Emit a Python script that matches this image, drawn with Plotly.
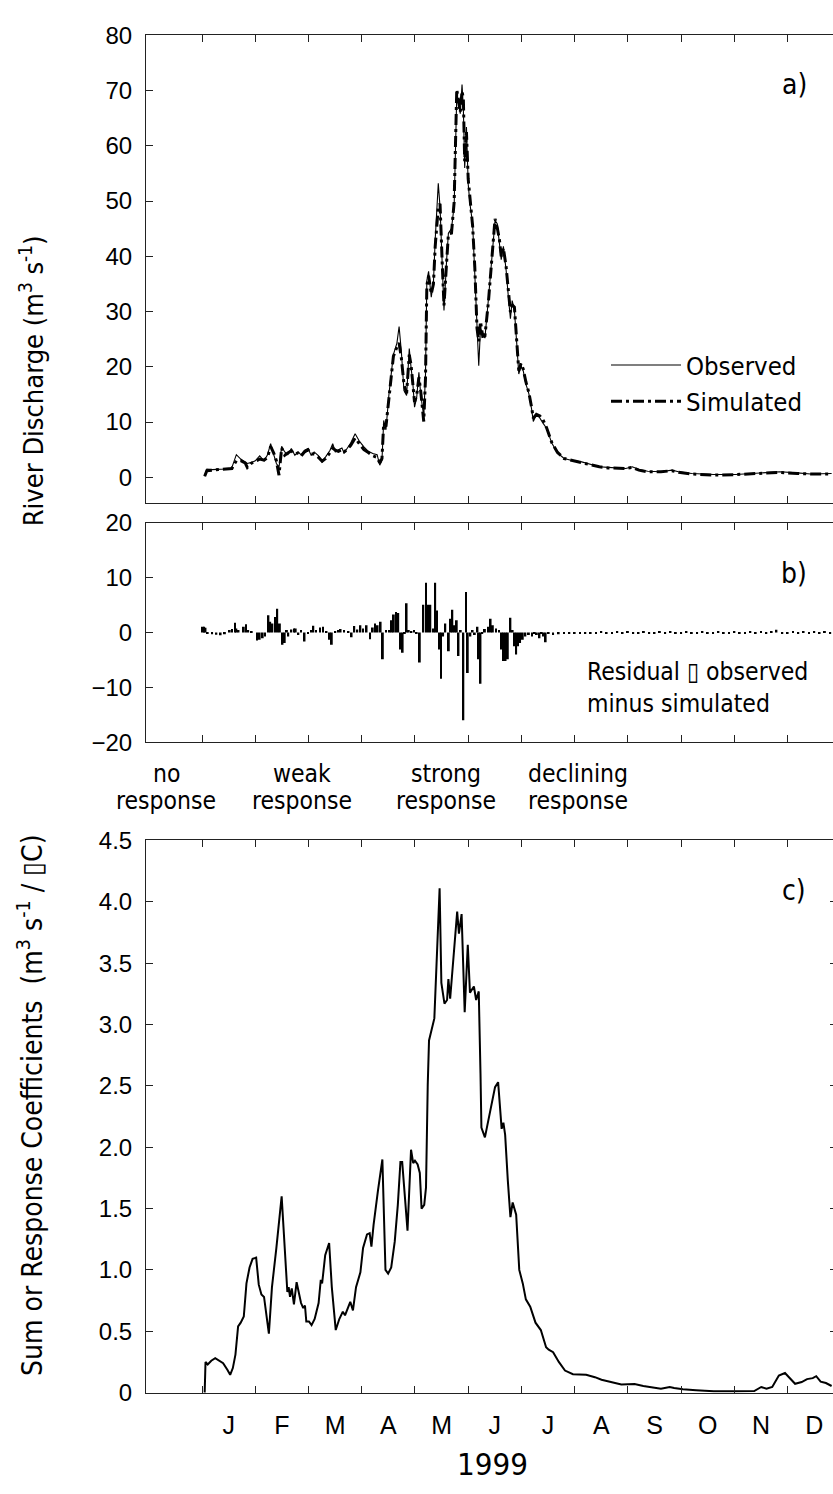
import plotly.graph_objects as go

W, H = 833, 1494

# ---------------- x axis: months (0 = 1 Jan, 1 = 1 Feb, ...) ----------------
MONTH_TICKS = [0, 1, 2, 3, 4, 5, 6, 7, 8, 9, 10, 11]
MONTH_LABEL_POS = [0.5, 1.5, 2.5, 3.5, 4.5, 5.5, 6.5, 7.5, 8.5, 9.5, 10.5, 11.5]
MONTH_LABELS = ["J", "F", "M", "A", "M", "J", "J", "A", "S", "O", "N", "D"]

# ---------------- panel a: river discharge (m3 s-1) ----------------
q_x = [0.050, 0.091, 0.190, 0.314, 0.438, 0.521, 0.562, 0.645, 0.727, 0.810, 0.851, 0.934,
       1.000, 1.083, 1.165, 1.231, 1.289, 1.347, 1.397, 1.446, 1.496, 1.554, 1.612, 1.678,
       1.744, 1.802, 1.860, 1.926, 1.992, 2.050, 2.107, 2.190, 2.256, 2.322, 2.405, 2.455,
       2.504, 2.562, 2.628, 2.669, 2.736, 2.793, 2.876, 2.959, 3.041, 3.124, 3.207, 3.289,
       3.339, 3.380, 3.413, 3.455, 3.512, 3.595, 3.661, 3.702, 3.744, 3.793, 3.843, 3.893,
       3.926, 3.959, 3.992, 4.033, 4.074, 4.107, 4.165, 4.198, 4.223, 4.256, 4.306, 4.347,
       4.380, 4.438, 4.471, 4.512, 4.545, 4.595, 4.628, 4.686, 4.736, 4.785, 4.818, 4.851,
       4.884, 4.909, 4.934, 4.967, 5.000, 5.033, 5.083, 5.124, 5.165, 5.198, 5.231, 5.273,
       5.314, 5.380, 5.446, 5.504, 5.545, 5.587, 5.620, 5.661, 5.711, 5.752, 5.793, 5.826,
       5.868, 5.909, 5.950, 5.992, 6.033, 6.083, 6.140, 6.190, 6.223, 6.281, 6.347, 6.405,
       6.471, 6.570, 6.678, 6.802, 6.967, 7.132, 7.298, 7.463, 7.628, 7.793, 7.959, 8.083,
       8.207, 8.372, 8.620, 8.826, 8.950, 9.198, 9.612, 10.025, 10.438, 10.851, 11.182,
       11.430, 11.826]
q_obs = [0.2, 1.5, 1.4, 1.4, 1.5, 1.6, 1.8, 4.1, 3.3, 2.8, 2.5, 2.7,
         3.0, 3.9, 3.0, 4.1, 6.1, 4.1, 2.5, 1.8, 5.6, 4.6, 4.1, 5.2,
         4.0, 4.6, 4.1, 4.9, 5.2, 4.0, 4.6, 3.9, 2.8, 3.7, 4.9, 6.1,
         4.6, 5.0, 5.3, 4.4, 5.3, 6.2, 7.9, 6.5, 5.5, 4.7, 4.3, 4.1,
         2.2, 3.1, 10.3, 8.6, 15.1, 22.2, 24.3, 27.3, 22.8, 15.7, 14.8, 23.3,
         19.9, 17.2, 12.7, 14.5, 19.0, 15.1, 11.0, 18.7, 35.6, 37.3, 32.6, 35.3,
         43.0, 53.2, 48.9, 37.6, 30.2, 39.4, 44.2, 45.0, 49.2, 69.1, 67.3, 65.8,
         71.1, 66.7, 56.0, 63.4, 53.1, 49.5, 45.9, 37.6, 28.2, 20.2, 27.0, 26.1,
         25.2, 32.3, 40.6, 46.5, 45.9, 42.4, 39.4, 41.8, 37.6, 32.9, 28.7, 32.0,
         30.2, 24.6, 18.7, 20.2, 19.3, 16.9, 15.1, 12.4, 10.1, 11.4, 10.7, 9.8,
         8.9, 6.2, 4.4, 3.4, 3.0, 2.8, 2.4, 1.9, 1.8, 1.7, 1.6, 1.9,
         1.4, 1.1, 1.0, 1.3, 1.0, 0.7, 0.5, 0.5, 0.8, 1.0, 0.8,
         0.6, 0.7]
q_sim = [0.2, 1.2, 1.3, 1.4, 1.4, 1.6, 1.6, 3.0, 3.0, 2.6, 1.8, 2.6,
         2.9, 3.3, 3.1, 3.6, 5.6, 4.4, 3.0, 0.4, 5.3, 4.0, 4.4, 4.8,
         4.2, 4.4, 3.8, 4.6, 5.0, 4.2, 4.2, 3.6, 2.9, 3.4, 4.5, 5.3,
         4.9, 4.7, 5.0, 4.6, 5.1, 5.8, 7.1, 6.0, 5.0, 4.5, 3.9, 3.6,
         2.6, 3.4, 9.8, 9.2, 14.8, 21.9, 23.6, 24.3, 21.6, 16.9, 15.2, 22.2,
         20.4, 17.5, 13.6, 14.9, 18.1, 15.7, 10.1, 18.0, 34.7, 36.5, 33.2, 35.0,
         41.8, 48.9, 49.5, 38.8, 31.1, 39.0, 44.0, 44.2, 49.8, 70.2, 67.9, 66.1,
         69.9, 68.5, 57.2, 62.5, 54.0, 50.2, 45.5, 38.0, 27.0, 24.6, 28.2, 25.5,
         25.6, 31.8, 40.0, 46.8, 45.2, 43.0, 40.0, 41.5, 38.2, 33.5, 29.9, 31.2,
         30.8, 25.0, 19.3, 20.6, 19.6, 17.3, 15.3, 12.7, 10.7, 11.4, 11.1, 10.4,
         9.0, 6.3, 4.5, 3.4, 3.0, 2.7, 2.3, 1.9, 1.7, 1.6, 1.6, 1.8,
         1.3, 1.0, 1.0, 1.2, 0.9, 0.6, 0.4, 0.5, 0.7, 0.9, 0.7,
         0.6, 0.6]

# ---------------- panel b: residual, observed minus simulated ----------------
res_x = [0.017, 0.041, 0.066, 0.107, 0.190, 0.270, 0.350, 0.430, 0.521, 0.562, 0.620, 0.645,
         0.686, 0.785, 0.826, 0.868, 0.934, 1.033, 1.083, 1.140, 1.182, 1.248, 1.281, 1.322,
         1.372, 1.413, 1.463, 1.512, 1.554, 1.595, 1.620, 1.678, 1.727, 1.760, 1.810, 1.860,
         1.926, 1.992, 2.050, 2.091, 2.140, 2.215, 2.273, 2.339, 2.397, 2.438, 2.504, 2.554,
         2.603, 2.669, 2.752, 2.810, 2.860, 2.917, 2.975, 3.025, 3.091, 3.157, 3.207, 3.248,
         3.298, 3.355, 3.397, 3.455, 3.521, 3.562, 3.603, 3.645, 3.686, 3.727, 3.769, 3.810,
         3.843, 3.884, 3.934, 3.983, 4.033, 4.091, 4.157, 4.207, 4.248, 4.289, 4.347, 4.380,
         4.413, 4.463, 4.488, 4.529, 4.570, 4.636, 4.669, 4.702, 4.744, 4.785, 4.818, 4.860,
         4.909, 4.959, 4.992, 5.041, 5.083, 5.124, 5.174, 5.198, 5.231, 5.264, 5.314, 5.372,
         5.421, 5.463, 5.521, 5.579, 5.628, 5.661, 5.702, 5.744, 5.793, 5.835, 5.868, 5.901,
         5.934, 5.975, 6.025, 6.074, 6.140, 6.198, 6.248, 6.289, 6.339, 6.380, 6.413, 6.455,
         6.512, 6.595, 6.70, 6.80, 6.90, 7.00, 7.10, 7.20, 7.30, 7.40, 7.50, 7.60,
         7.70, 7.80, 7.90, 8.00, 8.10, 8.20, 8.30, 8.40, 8.50, 8.60, 8.70, 8.80,
         8.90, 9.00, 9.10, 9.20, 9.30, 9.40, 9.50, 9.60, 9.70, 9.80, 9.90, 10.00,
         10.10, 10.20, 10.30, 10.40, 10.50, 10.60, 10.70, 10.79, 10.90, 11.00, 11.10, 11.20,
         11.30, 11.40, 11.50, 11.60, 11.70, 11.80]
res_v = [1.07, 1.07, 0.90, -0.20, -0.30, -0.40, -0.50, -0.30, 0.47, 0.65, 1.78, 0.77,
         0.47, 1.07, 1.54, 0.47, 0.18, -1.42, -1.31, -1.01, -0.71, 3.15, 1.96, 1.66,
         2.85, 4.33, 1.66, -2.20, -1.90, 0.47, -0.71, 0.59, 0.77, 0.77, -0.42, 0.47,
         -1.60, -0.20, 0.47, 1.25, 0.47, 0.95, 1.07, 0.18, -1.31, -2.20, 0.18, 0.47,
         0.65, 0.47, 0.18, -0.83, 1.19, 0.59, 1.36, 0.77, 1.36, -1.19, 0.95, 1.66,
         1.36, 1.96, -4.87, 0.47, 0.47, 2.26, 3.32, 3.74, 3.56, -3.09, -3.68, -0.12,
         5.34, 0.47, 0.18, 0.47, -0.24, -5.46, 5.10, 9.08, 5.10, 5.10, 0.77, 9.08,
         4.04, -3.09, -8.43, -0.71, 1.66, -3.38, 2.55, 4.15, 1.36, 2.26, -4.27, 0.47,
         -16.0, 7.42, -7.36, -0.71, 0.47, -0.42, 1.07, -4.87, -9.32, -0.12, 0.65, 1.07,
         2.55, 1.36, 0.77, 0.47, -3.09, -5.16, -5.16, -4.87, 2.73, 0.47, -2.49, -3.98,
         -2.49, -1.90, -1.31, -0.71, -0.42, -0.71, -0.24, -0.42, -1.01, -0.12, -0.71, -1.78,
         -0.12, -0.42, -0.30, -0.25, -0.25, -0.20, -0.25, -0.20, -0.20, -0.20, 0.20, -0.20,
         -0.20, 0.20, -0.20, 0.25, -0.20, -0.25, 0.20, -0.20, -0.20, 0.20, -0.20, 0.25,
         -0.20, -0.20, 0.20, -0.20, -0.20, 0.20, -0.20, -0.20, 0.20, -0.20, -0.20, 0.20,
         -0.20, -0.20, 0.20, -0.20, 0.25, -0.20, 0.20, 0.50, -0.25, -0.20, 0.20, -0.20,
         0.20, -0.20, 0.20, -0.20, 0.20, -0.20]

# ---------------- panel c: sum of response coefficients ----------------
c_x = [0.050, 0.066, 0.107, 0.174, 0.248, 0.314, 0.397, 0.479, 0.529, 0.579, 0.628, 0.678,
       0.727, 0.785, 0.835, 0.893, 0.950, 1.017, 1.066, 1.116, 1.165, 1.256, 1.314, 1.397,
       1.496, 1.603, 1.628, 1.653, 1.686, 1.727, 1.777, 1.860, 1.901, 1.934, 1.959, 2.008,
       2.058, 2.116, 2.190, 2.231, 2.256, 2.314, 2.388, 2.438, 2.512, 2.579, 2.645, 2.686,
       2.736, 2.785, 2.835, 2.893, 2.975, 3.025, 3.099, 3.149, 3.182, 3.223, 3.306, 3.388,
       3.446, 3.496, 3.554, 3.620, 3.678, 3.727, 3.760, 3.860, 3.926, 3.967, 4.000, 4.050,
       4.091, 4.124, 4.174, 4.207, 4.240, 4.264, 4.364, 4.397, 4.463, 4.496, 4.554, 4.603,
       4.628, 4.661, 4.736, 4.793, 4.826, 4.876, 4.934, 4.992, 5.033, 5.107, 5.149, 5.198,
       5.231, 5.248, 5.314, 5.380, 5.446, 5.504, 5.562, 5.628, 5.661, 5.694, 5.744, 5.793,
       5.835, 5.901, 5.959, 6.025, 6.083, 6.165, 6.264, 6.364, 6.463, 6.512, 6.595, 6.702,
       6.818, 6.967, 7.215, 7.380, 7.504, 7.711, 7.876, 8.124, 8.289, 8.620, 8.785, 8.868,
       9.033, 9.281, 9.612, 10.025, 10.372, 10.504, 10.603, 10.711, 10.835, 10.950, 11.017,
       11.140, 11.264, 11.364, 11.471, 11.537, 11.620, 11.719, 11.826]
c_v = [0.00, 0.25, 0.23, 0.26, 0.28, 0.26, 0.24, 0.185, 0.145, 0.20, 0.31, 0.54,
       0.57, 0.62, 0.89, 1.02, 1.09, 1.10, 0.88, 0.80, 0.78, 0.48, 0.86, 1.18,
       1.60, 0.82, 0.86, 0.78, 0.85, 0.72, 0.90, 0.73, 0.69, 0.71, 0.58, 0.58,
       0.55, 0.60, 0.73, 0.92, 0.89, 1.12, 1.22, 0.86, 0.51, 0.60, 0.66, 0.63,
       0.69, 0.74, 0.67, 0.86, 0.98, 1.18, 1.29, 1.30, 1.19, 1.37, 1.65, 1.90,
       1.00, 0.97, 1.02, 1.23, 1.53, 1.88, 1.88, 1.32, 1.98, 1.87, 1.89, 1.86,
       1.79, 1.50, 1.53, 1.67, 2.51, 2.87, 3.05, 3.42, 4.11, 3.34, 3.17, 3.20,
       3.37, 3.21, 3.66, 3.92, 3.74, 3.90, 3.10, 3.65, 3.26, 3.31, 3.20, 3.27,
       2.60, 2.16, 2.08, 2.23, 2.39, 2.49, 2.53, 2.15, 2.20, 2.10, 1.73, 1.43,
       1.55, 1.45, 1.00, 0.89, 0.76, 0.70, 0.57, 0.51, 0.37, 0.35, 0.33, 0.25,
       0.18, 0.15, 0.145, 0.126, 0.105, 0.086, 0.067, 0.070, 0.054, 0.032, 0.046, 0.038,
       0.027, 0.019, 0.011, 0.011, 0.013, 0.046, 0.032, 0.046, 0.14, 0.16, 0.126,
       0.072, 0.086, 0.11, 0.118, 0.134, 0.09, 0.078, 0.054]

C_TICKS = [0, 0.5, 1.0, 1.5, 2.0, 2.5, 3.0, 3.5, 4.0, 4.5]
C_TICKTEXT = ["0", "0.5", "1.0", "1.5", "2.0", "2.5", "3.0", "3.5", "4.0", "4.5"]

# ---------------- styling ----------------
COND = "DejaVu Sans Condensed, DejaVu Sans, sans-serif"
REG = "Liberation Sans, Arial, sans-serif"
AX = "#222222"
XR = [-1.052, 11.852]


def py(px):
    return 1 - px / H


def px_x(px):
    return (px - 146) / (W - 146)


fig = go.Figure()

fig.add_trace(go.Scatter(x=q_x, y=q_sim, mode="lines", name="Simulated", legendrank=2,
                         line=dict(color="black", width=3, dash="11px,4px,3px,4px"),
                         xaxis="x", yaxis="y"))
fig.add_trace(go.Scatter(x=q_x, y=q_obs, mode="lines", name="Observed", legendrank=1,
                         line=dict(color="black", width=1.1), xaxis="x", yaxis="y"))
fig.add_trace(go.Bar(x=res_x, y=res_v, width=0.035, marker=dict(color="black", line=dict(width=0)),
                     showlegend=False, xaxis="x2", yaxis="y2"))
fig.add_trace(go.Scatter(x=c_x, y=c_v, mode="lines", line=dict(color="black", width=2),
                         showlegend=False, xaxis="x3", yaxis="y3"))
# helper traces so the month-label axis and right-tick axis are drawn
fig.add_trace(go.Scatter(x=[None], y=[None], showlegend=False, xaxis="x4", yaxis="y3",
                         hoverinfo="skip"))
fig.add_trace(go.Scatter(x=[None], y=[None], showlegend=False, xaxis="x3", yaxis="y4",
                         hoverinfo="skip"))

xcommon = dict(range=XR, tickvals=MONTH_TICKS, ticks="inside", ticklen=7, tickwidth=1,
               tickcolor=AX, showline=True, linecolor=AX, linewidth=1, mirror="ticks",
               showgrid=False, zeroline=False, showticklabels=False)
ycommon = dict(ticks="inside", ticklen=7, tickwidth=1, tickcolor=AX, showline=True,
               linecolor=AX, linewidth=1, showgrid=False, zeroline=False,
               tickfont=dict(family=REG, size=24, color="black"), ticklabelstandoff=8)

fig.update_layout(
    width=W, height=H,
    margin=dict(l=146, r=0, t=0, b=0),
    paper_bgcolor="white", plot_bgcolor="white",
    showlegend=True,
    legend=dict(x=px_x(606), y=py(334), xanchor="left", yanchor="top",
                bgcolor="rgba(0,0,0,0)", font=dict(family=COND, size=25.5, color="black"),
                itemwidth=70, tracegroupgap=0, traceorder="normal"),
    xaxis=dict(domain=[0, 1], anchor="y", **xcommon),
    xaxis2=dict(domain=[0, 1], anchor="y2", **xcommon),
    xaxis3=dict(domain=[0, 1], anchor="y3", **xcommon),
    xaxis4=dict(domain=[0, 1], anchor="y3", overlaying="x3", range=XR,
                tickvals=MONTH_LABEL_POS, ticktext=MONTH_LABELS, ticks="",
                showline=False, showgrid=False, zeroline=False,
                tickfont=dict(family=REG, size=25, color="black"), ticklabelstandoff=15),
    yaxis=dict(domain=[py(498.3), py(21.7)], anchor="x", range=[-4.7, 80],
               tickvals=[0, 10, 20, 30, 40, 50, 60, 70, 80], **ycommon),
    yaxis2=dict(domain=[py(741.7), py(518.3)], anchor="x2", range=[-20, 20],
                tickvals=[-20, -10, 0, 10, 20], **ycommon),
    yaxis3=dict(domain=[py(1404), py(841.7)], anchor="x3", range=[0, 4.5],
                tickvals=C_TICKS, ticktext=C_TICKTEXT, **ycommon),
    yaxis4=dict(domain=[py(1404), py(841.7)], anchor="x3", overlaying="y3", side="right",
                range=[0, 4.5], tickvals=C_TICKS, ticks="inside", ticklen=3, tickcolor=AX,
                showticklabels=False, showline=False, showgrid=False, zeroline=False),
)

ann = []
# panel letters
for txt, ypx in [("a)", 72), ("b)", 570), ("c)", 893)]:
    ann.append(dict(text=txt, x=px_x(794), y=py(ypx), xref="paper", yref="paper",
                    xanchor="center", yanchor="middle", showarrow=False,
                    font=dict(family=COND, size=28, color="black")))
# residual note
ann.append(dict(text="Residual \u25AF observed<br>minus simulated", x=px_x(585), y=py(686),
                xref="paper", yref="paper", xanchor="left", yanchor="middle", align="left",
                showarrow=False, font=dict(family=COND, size=24.5, color="black")))
# response phases
for (l1, l2, cx) in [("no", "response", 166), ("weak", "response", 302),
                     ("strong", "response", 446), ("declining", "response", 578)]:
    ann.append(dict(text=l1, x=px_x(cx), y=py(773), xref="paper", yref="paper",
                    xanchor="center", yanchor="middle", showarrow=False,
                    font=dict(family=COND, size=24.5, color="black")))
    ann.append(dict(text=l2, x=px_x(cx), y=py(801), xref="paper", yref="paper",
                    xanchor="center", yanchor="middle", showarrow=False,
                    font=dict(family=COND, size=24.5, color="black")))
# axis titles
ann.append(dict(text="River Discharge (m<sup>3</sup> s<sup>-1</sup>)", x=px_x(31), y=py(373),
                xref="paper", yref="paper", xanchor="center", yanchor="middle", textangle=-90,
                showarrow=False, font=dict(family=COND, size=27, color="black")))
ann.append(dict(text="Sum or Response Coefficients\u00a0 (m<sup>3</sup> s<sup>-1</sup> / \u25AFC)",
                x=px_x(31), y=py(1112), xref="paper", yref="paper", xanchor="center",
                yanchor="middle", textangle=-90, showarrow=False,
                font=dict(family=COND, size=28, color="black")))
ann.append(dict(text="1999", x=px_x(492), y=py(1477), xref="paper", yref="paper",
                xanchor="center", yanchor="middle", showarrow=False,
                font=dict(family=COND, size=31, color="black")))
fig.update_layout(annotations=ann)

fig.write_html("out.html")
